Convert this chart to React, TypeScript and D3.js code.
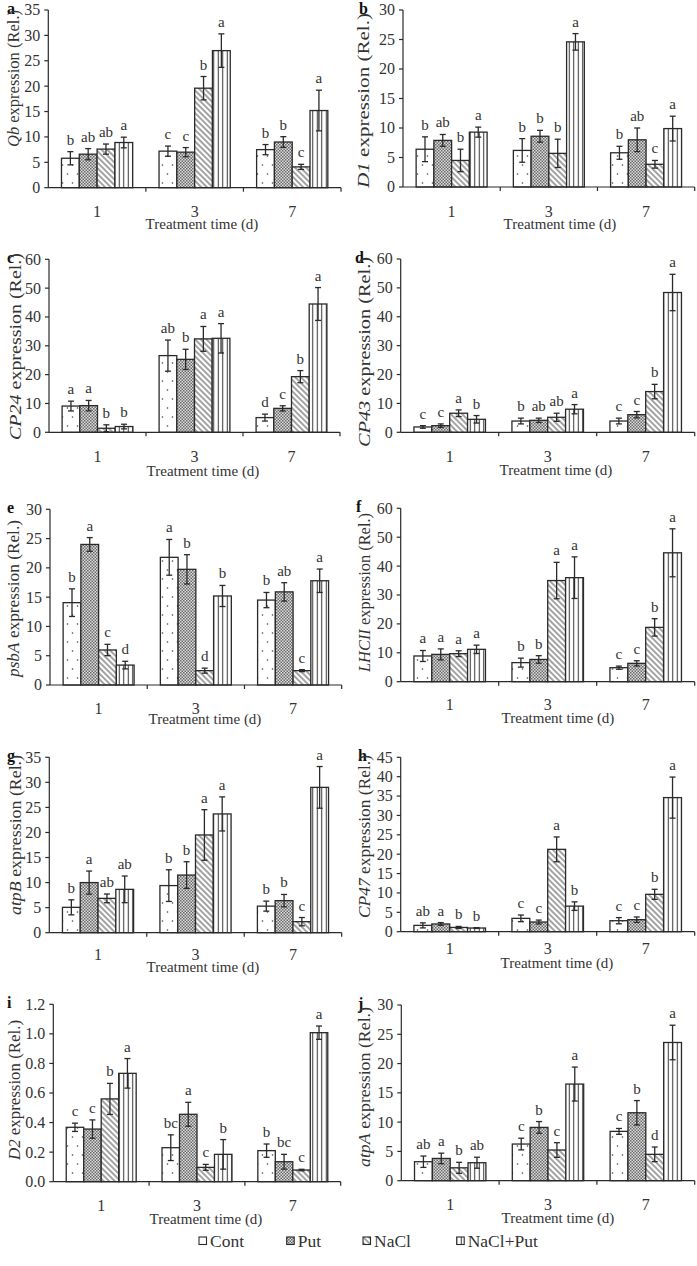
import React from 'react';
import * as d3 from 'd3';

const groups = ['1', '3', '7'];
const treatments = ['Cont', 'Put', 'NaCl', 'NaCl+Put'];
const patternIds = ['pCont', 'pPut', 'pNaCl', 'pNP'];

// a Qb
const qbMean = [[5.8, 6.6, 7.6, 8.9], [7.2, 7.0, 19.6, 27.0], [7.5, 9.0, 4.1, 15.2]];
const qbErr = [[1.3, 1.1, 1.0, 1.05], [1.0, 0.9, 2.3, 3.3], [1.0, 1.05, 0.5, 4.0]];
const qbLet = [['b', 'ab', 'ab', 'a'], ['c', 'c', 'b', 'a'], ['b', 'b', 'c', 'a']];
// b D1
const d1Mean = [[6.4, 7.9, 4.5, 9.3], [6.2, 8.6, 5.7, 24.6], [5.8, 8.0, 3.85, 9.9]];
const d1Err = [[2.1, 1.0, 1.9, 0.85], [2.0, 1.0, 2.4, 1.4], [1.1, 2.0, 0.65, 2.1]];
const d1Let = [['b', 'ab', 'b', 'a'], ['b', 'b', 'b', 'a'], ['b', 'ab', 'c', 'a']];
// c CP24
const cp24Mean = [[9.1, 9.25, 1.4, 2.0], [26.6, 25.3, 32.4, 32.6], [5.1, 8.3, 19.3, 44.5]];
const cp24Err = [[1.7, 1.8, 1.2, 0.8], [5.4, 3.5, 4.3, 5.1], [1.2, 0.9, 2.1, 5.7]];
const cp24Let = [['a', 'a', 'b', 'b'], ['ab', 'b', 'a', 'a'], ['d', 'c', 'b', 'a']];
// d CP43
const cp43Mean = [[1.85, 2.3, 6.6, 4.5], [3.9, 4.15, 5.2, 8.0], [3.9, 6.1, 14.1, 48.4]];
const cp43Err = [[0.45, 0.6, 1.15, 1.3], [1.0, 0.75, 1.4, 1.6], [1.0, 1.1, 2.5, 6.3]];
const cp43Let = [['c', 'c', 'a', 'b'], ['b', 'ab', 'ab', 'a'], ['c', 'c', 'b', 'a']];
// e psbA
const psbaMean = [[14.06, 24.0, 5.98, 3.4], [21.8, 19.75, 2.45, 15.2], [14.5, 15.9, 2.45, 17.8]];
const psbaErr = [[2.36, 1.17, 0.97, 0.65], [3.05, 2.5, 0.43, 1.8], [1.3, 1.57, 0.17, 2.0]];
const psbaLet = [['b', 'a', 'c', 'd'], ['a', 'b', 'd', 'b'], ['b', 'ab', 'c', 'a']];
// f LHCII
const lhcMean = [[8.9, 9.45, 9.7, 11.2], [6.6, 7.7, 35.0, 36.0], [4.85, 6.35, 18.8, 44.6]];
const lhcErr = [[1.9, 1.9, 1.0, 1.45], [1.55, 1.3, 6.3, 7.2], [0.55, 0.9, 3.0, 8.3]];
const lhcLet = [['a', 'a', 'a', 'a'], ['b', 'b', 'a', 'a'], ['c', 'c', 'b', 'a']];
// g atpB
const atpbMean = [[5.06, 10.0, 6.85, 8.65], [9.4, 11.5, 19.5, 23.7], [5.3, 6.4, 2.2, 29.0]];
const atpbErr = [[1.5, 2.3, 0.87, 2.66], [3.16, 2.66, 5.05, 3.4], [1.0, 1.23, 0.83, 4.16]];
const atpbLet = [['b', 'a', 'ab', 'ab'], ['b', 'b', 'a', 'a'], ['b', 'b', 'c', 'a']];
// h CP47
const cp47Mean = [[1.63, 2.0, 1.1, 0.95], [3.44, 2.5, 21.25, 6.6], [2.84, 3.1, 9.64, 34.6]];
const cp47Err = [[0.65, 0.35, 0.26, 0.1], [0.86, 0.5, 3.2, 1.1], [0.8, 0.7, 1.3, 5.3]];
const cp47Let = [['ab', 'a', 'b', 'b'], ['c', 'c', 'a', 'b'], ['c', 'c', 'b', 'a']];
// i D2
const d2Mean = [[0.368, 0.356, 0.56, 0.733], [0.23, 0.456, 0.097, 0.185], [0.21, 0.135, 0.079, 1.008]];
const d2Err = [[0.028, 0.062, 0.105, 0.1], [0.087, 0.081, 0.02, 0.1], [0.045, 0.05, 0.005, 0.045]];
const d2Let = [['c', 'c', 'b', 'a'], ['bc', 'a', 'c', 'b'], ['b', 'bc', 'c', 'a']];
// j atpA
const atpaMean = [[3.24, 3.8, 2.2, 3.07], [6.26, 9.1, 5.24, 16.5], [8.42, 11.6, 4.5, 23.6]];
const atpaErr = [[0.97, 0.9, 0.94, 0.94], [1.0, 1.0, 1.25, 2.9], [0.5, 2.08, 1.25, 2.95]];
const atpaLet = [['ab', 'a', 'b', 'ab'], ['c', 'b', 'c', 'a'], ['c', 'b', 'd', 'a']];

const FONT = "'Liberation Serif', 'Times New Roman', serif";
const TXT = '#333';
const LINE = '#2a2a2a';

const panels = [
  { id: 'a', gene: 'Qb', mean: qbMean, err: qbErr, let: qbLet, max: 35, step: 5, fmt: 'd',
    x0: 48.3, x1: 341, yTop: 10, y0: 187.7, lx: 14, lTop: 10, lBot: 147, catDy: 29, titleDy: 41, tcx: 202, px: 7 },
  { id: 'b', gene: 'D1', mean: d1Mean, err: d1Err, let: d1Let, max: 30, step: 5, fmt: 'd',
    x0: 403, x1: 694.7, yTop: 10, y0: 187, lx: 364, lTop: 13, lBot: 188, catDy: 30, titleDy: 42, tcx: 560, px: 359 },
  { id: 'c', gene: 'CP24', mean: cp24Mean, err: cp24Err, let: cp24Let, max: 60, step: 10, fmt: 'd',
    x0: 49, x1: 340, yTop: 259.3, y0: 432.3, lx: 16, lTop: 253, lBot: 440, catDy: 30, titleDy: 44, tcx: 203, px: 7 },
  { id: 'd', gene: 'CP43', mean: cp43Mean, err: cp43Err, let: cp43Let, max: 60, step: 10, fmt: 'd',
    x0: 400.7, x1: 694.7, yTop: 259, y0: 432.3, lx: 365, lTop: 257, lBot: 447, catDy: 30, titleDy: 43, tcx: 556, px: 355 },
  { id: 'e', gene: 'psbA', mean: psbaMean, err: psbaErr, let: psbaLet, max: 30, step: 5, fmt: 'd',
    x0: 50, x1: 341.7, yTop: 509.3, y0: 685, lx: 14, lTop: 520, lBot: 677, catDy: 29, titleDy: 39, tcx: 205, px: 7 },
  { id: 'f', gene: 'LHCII', mean: lhcMean, err: lhcErr, let: lhcLet, max: 60, step: 10, fmt: 'd',
    x0: 400.7, x1: 694.7, yTop: 508.3, y0: 681.7, lx: 365, lTop: 513, lBot: 672, catDy: 28, titleDy: 41, tcx: 558, px: 356 },
  { id: 'g', gene: 'atpB', mean: atpbMean, err: atpbErr, let: atpbLet, max: 35, step: 5, fmt: 'd',
    x0: 49.3, x1: 341.7, yTop: 757.3, y0: 932.7, lx: 16, lTop: 755, lBot: 915, catDy: 27, titleDy: 39, tcx: 203, px: 7 },
  { id: 'h', gene: 'CP47', mean: cp47Mean, err: cp47Err, let: cp47Let, max: 45, step: 5, fmt: 'd',
    x0: 400.7, x1: 694.7, yTop: 757.3, y0: 931.7, lx: 365, lTop: 755, lBot: 918, catDy: 22, titleDy: 36, tcx: 557, px: 358 },
  { id: 'i', gene: 'D2', mean: d2Mean, err: d2Err, let: d2Let, max: 1.2, step: 0.2, fmt: '.1f',
    x0: 53.3, x1: 340.7, yTop: 1004.3, y0: 1181.7, lx: 15, lTop: 1020, lBot: 1160, catDy: 29, titleDy: 42, tcx: 206, px: 7 },
  { id: 'j', gene: 'atpA', mean: atpaMean, err: atpaErr, let: atpaLet, max: 30, step: 5, fmt: 'd',
    x0: 401.3, x1: 694.7, yTop: 1005, y0: 1180.7, lx: 365, lTop: 1007, lBot: 1167, catDy: 29, titleDy: 42, tcx: 558, px: 358 },
];

const legendX = [199, 286.7, 363, 456.7];

function Panel({ p }: { p: any }) {
  const y = d3.scaleLinear().domain([0, p.max]).range([p.y0, p.yTop]);
  const xg = d3.scaleBand().domain(groups).range([p.x0, p.x1]).padding(0);
  const xb = d3.scaleBand().domain(treatments).range([0, xg.bandwidth()]).paddingInner(0).paddingOuter(0.74);
  const ticks = d3.range(0, p.max + p.step / 2, p.step);
  const fmt = d3.format(p.fmt);
  const lcy = (p.lTop + p.lBot) / 2;
  return (
    <g>
      <text x={p.px} y={p.yTop + 4} fontFamily={FONT} fontWeight="bold" fontSize={16} fill="#111">{p.id}</text>
      {groups.map((g, gi) => (
        <g key={g}>
          {treatments.map((t, ti) => {
            const bx = (xg(g) as number) + (xb(t) as number);
            const bw = xb.bandwidth();
            const m = p.mean[gi][ti];
            const e = p.err[gi][ti];
            const cx = bx + bw / 2;
            const yt = y(m + e);
            const yb = y(Math.max(0, m - e));
            return (
              <g key={t}>
                <rect x={bx} y={y(m)} width={bw} height={p.y0 - y(m)} fill={`url(#${patternIds[ti]})`} stroke={LINE} strokeWidth={1.3} />
                <line x1={cx} x2={cx} y1={yt} y2={yb} stroke={LINE} strokeWidth={1.3} />
                <line x1={cx - 3} x2={cx + 3} y1={yt} y2={yt} stroke={LINE} strokeWidth={1.3} />
                <line x1={cx - 3} x2={cx + 3} y1={yb} y2={yb} stroke={LINE} strokeWidth={1.3} />
                <text x={cx} y={yt - 7} textAnchor="middle" fontFamily={FONT} fontSize={15} fill={TXT}>{p.let[gi][ti]}</text>
              </g>
            );
          })}
        </g>
      ))}
      <line x1={p.x0} x2={p.x0} y1={p.yTop} y2={p.y0} stroke={LINE} strokeWidth={1.2} />
      {ticks.map((v: number) => (
        <g key={v}>
          <line x1={p.x0 - 4} x2={p.x0} y1={y(v)} y2={y(v)} stroke={LINE} strokeWidth={1.2} />
          <text x={p.x0 - 8} y={y(v)} dy="0.34em" textAnchor="end" fontFamily={FONT} fontSize={16} fill={TXT}>{fmt(v)}</text>
        </g>
      ))}
      <line x1={p.x0} x2={p.x1} y1={p.y0} y2={p.y0} stroke={LINE} strokeWidth={1.2} />
      {groups.map((g) => (
        <g key={g}>
          <line x1={(xg(g) as number) + xg.bandwidth()} x2={(xg(g) as number) + xg.bandwidth()} y1={p.y0} y2={p.y0 + 4} stroke={LINE} strokeWidth={1.2} />
          <text x={(xg(g) as number) + xg.bandwidth() / 2} y={p.y0 + p.catDy} textAnchor="middle" fontFamily={FONT} fontSize={16} fill={TXT}>{g}</text>
        </g>
      ))}
      <text x={p.tcx} y={p.y0 + p.titleDy} textAnchor="middle" fontFamily={FONT} fontSize={15} fill={TXT}>Treatment time (d)</text>
      <text transform={`translate(${p.lx},${lcy}) rotate(-90)`} textAnchor="middle" dy="0.32em" fontFamily={FONT} fontSize={17} fill={TXT}
        textLength={p.lBot - p.lTop} lengthAdjust="spacingAndGlyphs">
        <tspan fontStyle="italic">{p.gene}</tspan> expression (Rel.)
      </text>
    </g>
  );
}

export default function App() {
  return (
    <svg width={697} height={1266} style={{ position: 'absolute', left: 0, top: 0, background: '#fff' }}>
      <defs>
        <pattern id="pCont" patternUnits="userSpaceOnUse" width={10} height={18}>
          <rect width={10} height={18} fill="#fff" />
          <circle cx={2.5} cy={3} r={0.8} fill="#444" />
          <circle cx={7.5} cy={12} r={0.8} fill="#444" />
        </pattern>
        <pattern id="pPut" patternUnits="userSpaceOnUse" width={3} height={3}>
          <rect width={3} height={3} fill="#dcdcdc" />
          <rect x={0} y={0} width={1.5} height={1.5} fill="#6a6a6a" />
          <rect x={1.5} y={1.5} width={1.5} height={1.5} fill="#6a6a6a" />
        </pattern>
        <pattern id="pNaCl" patternUnits="userSpaceOnUse" width={4} height={4} patternTransform="rotate(-45)">
          <rect width={4} height={4} fill="#fff" />
          <line x1={2} y1={0} x2={2} y2={4} stroke="#333" strokeWidth={0.9} />
        </pattern>
        <pattern id="pNP" patternUnits="userSpaceOnUse" width={4.5} height={10}>
          <rect width={4.5} height={10} fill="#fff" />
          <line x1={2.25} y1={0} x2={2.25} y2={10} stroke="#333" strokeWidth={1} />
        </pattern>
      </defs>
      <rect width={697} height={1266} fill="#fff" />
      {panels.map((p) => <Panel key={p.id} p={p} />)}
      {treatments.map((t, i) => (
        <g key={t}>
          <rect x={legendX[i]} y={1237} width={7.5} height={7.5} fill={`url(#${patternIds[i]})`} stroke={LINE} strokeWidth={1.1} />
          <text x={legendX[i] + 11} y={1247} fontFamily={FONT} fontSize={17.5} fill={TXT}>{t}</text>
        </g>
      ))}
    </svg>
  );
}
